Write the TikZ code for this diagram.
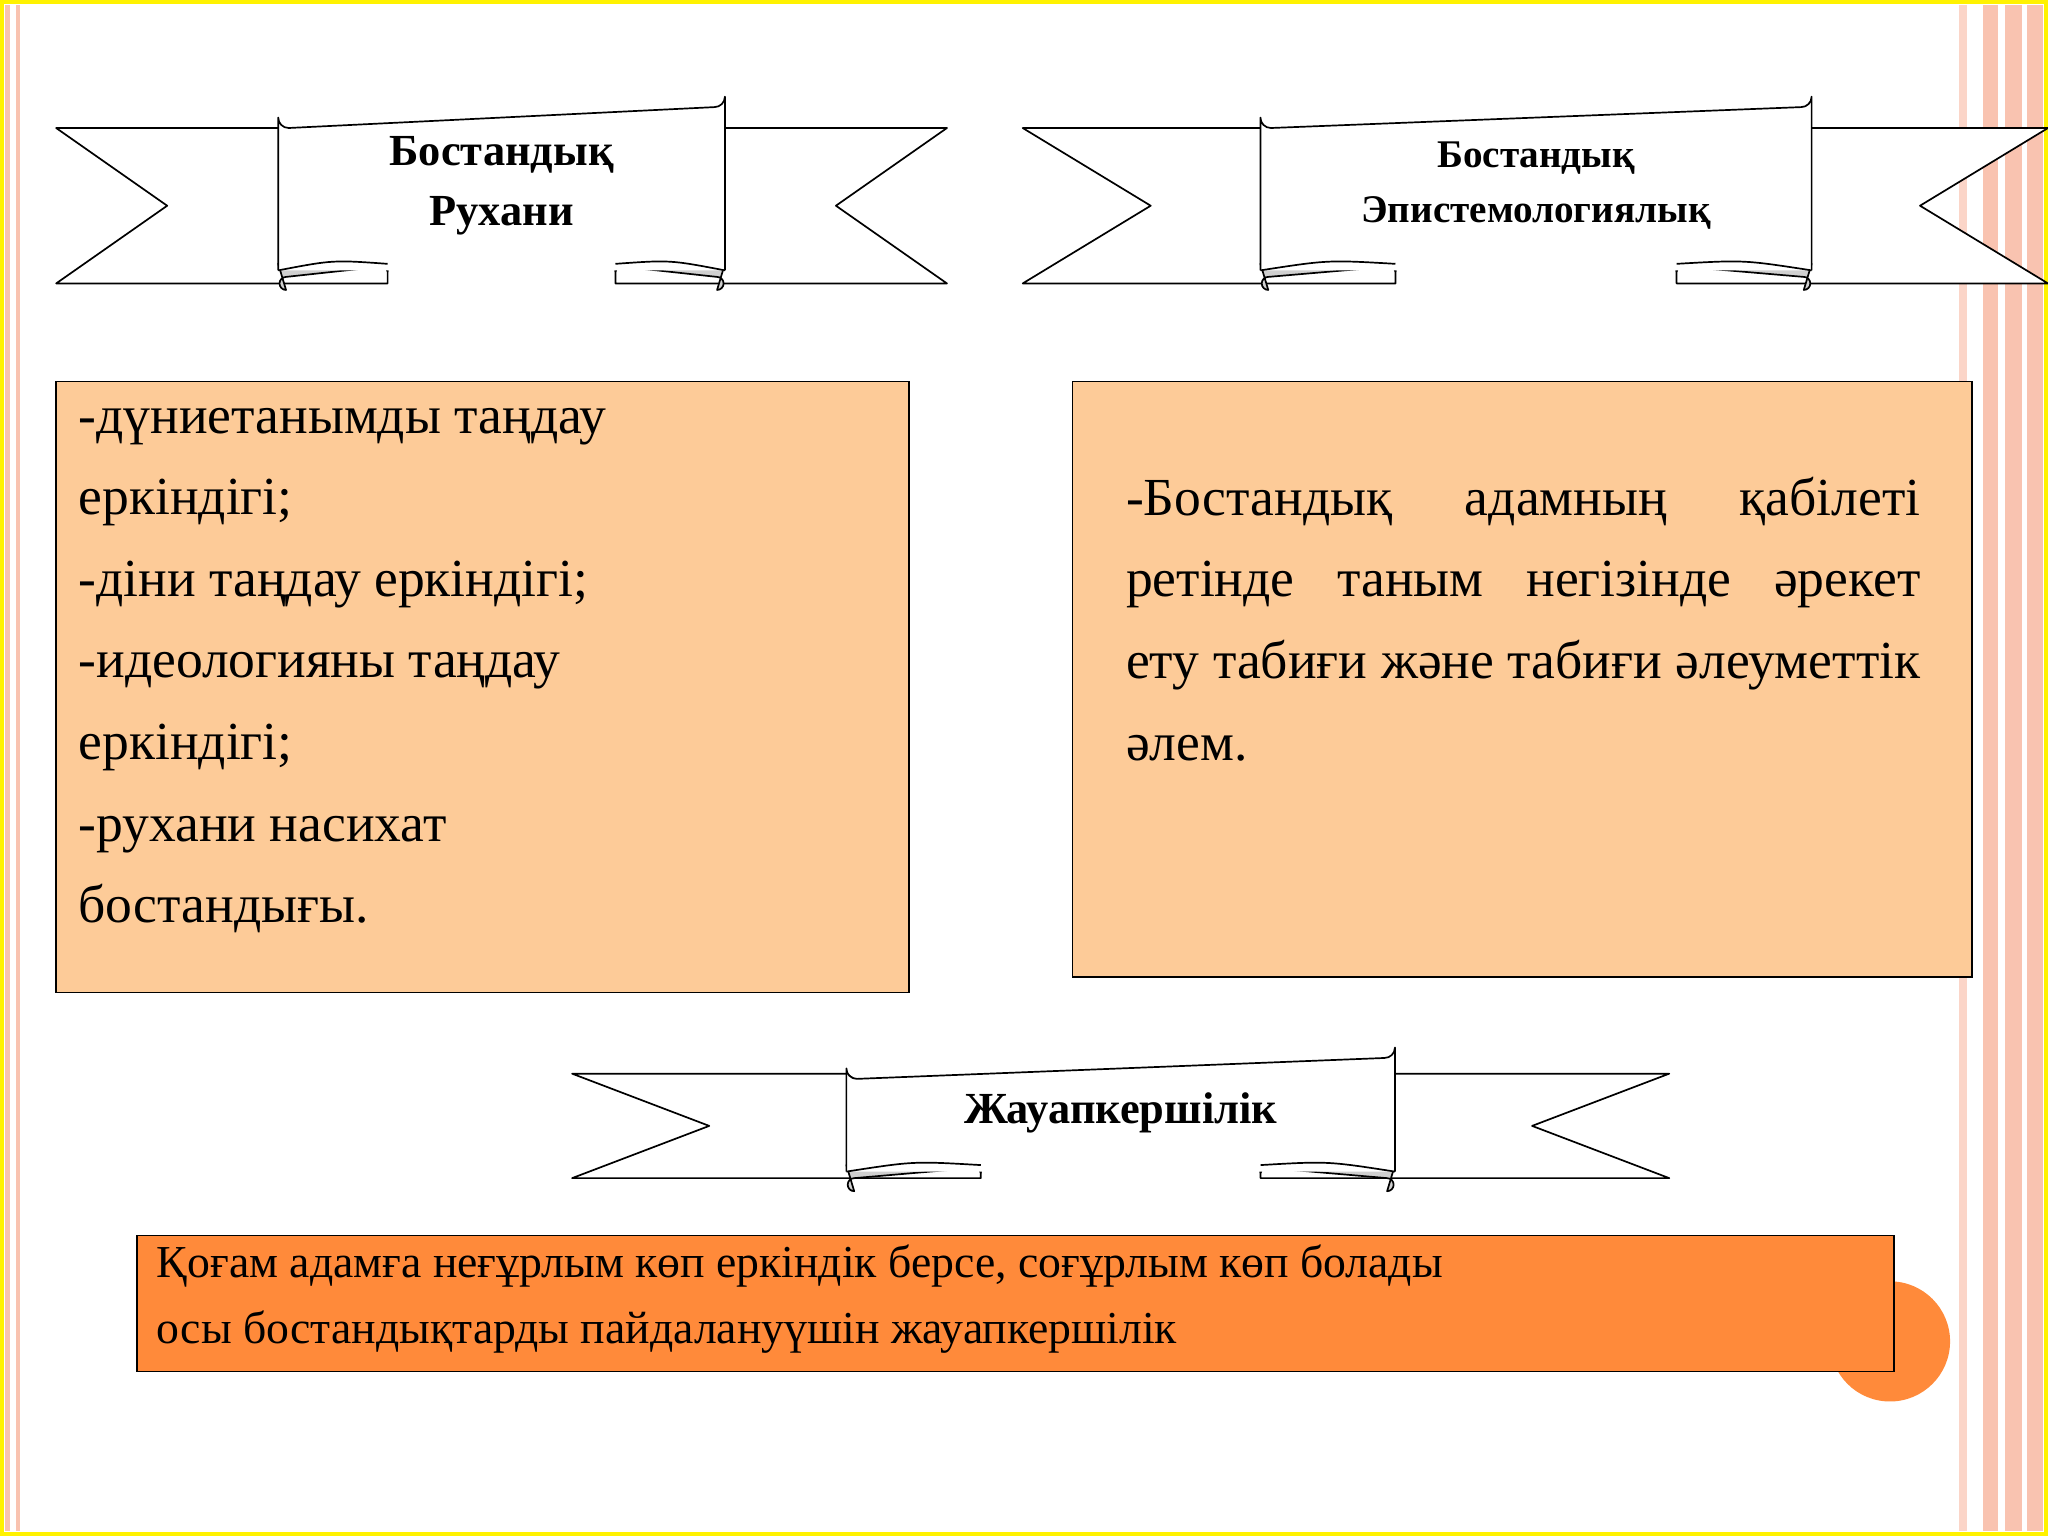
\documentclass[tikz,border=0pt]{standalone}
\usepackage{fontspec}
\setmainfont{Liberation Serif}
\definecolor{boxfill}{HTML}{FDCB98}
\definecolor{orfill}{HTML}{FF8A3A}
\definecolor{stripe}{HTML}{F9C3B0}
\definecolor{curl}{HTML}{D0D0D0}
\newcommand\ribbon[9]{%
  \pgfmathsetmacro\cw{0.245*(#3-#2)}%
  \pgfmathsetmacro\my{0.5*(#6+#7)}%
  \draw[rib] (#2,#6) -- (#1,#6) -- (#1+#5,\my) -- (#1,#7) -- (#2+\cw,#7) -- (#2+\cw,#9) -- cycle;
  \draw[rib] (#3,#6) -- (#4,#6) -- (#4-#5,\my) -- (#4,#7) -- (#3-\cw,#7) -- (#3-\cw,#9) -- cycle;
  \draw[rib,fill=curl] (#2,#9) -- (#2+\cw,#9) -- (#2+\cw,#9+6) arc[start angle=0,end angle=-90,radius=4] -- (#2+6,#9+10) arc[start angle=270,end angle=90,radius=5] -- cycle;
  \draw[rib,fill=curl] (#3,#9) -- (#3-\cw,#9) -- (#3-\cw,#9+6) arc[start angle=180,end angle=270,radius=4] -- (#3-6,#9+10) arc[start angle=-90,end angle=90,radius=5] -- cycle;
  \draw[rib] (#2,#9+5) -- (#2,#8+8) arc[start angle=180,end angle=90,radius=8] -- (#3-8,#8) arc[start angle=90,end angle=0,radius=8] -- (#3,#9+5);
  \draw[rib] (#2,#9+5) .. controls (#2+\cw*0.5,#9-3) .. (#2+\cw,#9);
  \draw[rib] (#3,#9+5) .. controls (#3-\cw*0.5,#9-3) .. (#3-\cw,#9);
}
\begin{document}
\begin{tikzpicture}[x=1pt,y=-1pt,rib/.style={draw=black,line width=1.3pt,fill=white,line join=round},
 box/.style={draw=black,line width=1.2pt},
 tit/.style={font=\bfseries, align=center, inner sep=0pt}]
\useasboundingbox (0,0) rectangle (1568,1176);
\fill[white] (0,0) rectangle (1568,1176);
% side stripes
\fill[stripe] (4,4) rectangle (8,1172);
\fill[stripe] (12,4) rectangle (15,1172);
\fill[stripe!70] (1500,4) rectangle (1506,1172);
\fill[stripe] (1518,4) rectangle (1530,1172);
\fill[stripe] (1535,4) rectangle (1548,1172);
\fill[stripe] (1552,4) rectangle (1564,1172);
\draw[yellow,line width=3pt] (1.5,1.5) rectangle (1566.5,1174.5);
% ribbons
\ribbon{43}{213}{555}{725}{85}{98}{217}{82}{202}
\node[tit,font=\bfseries\fontsize{34}{46}\selectfont] (t1) at (384,142) {Бостандық\\Рухани};
\ribbon{783}{965}{1387}{1568}{98}{98}{217}{82}{202}
\node[tit,font=\bfseries\fontsize{30}{42}\selectfont] (t2) at (1176,142) {Бостандық\\Эпистемологиялық};
\ribbon{438}{648}{1068}{1278}{105}{822}{902}{810}{892}
\node[tit,font=\bfseries\fontsize{34}{46}\selectfont] (t3) at (858,852) {Жауапкершілік};
% boxes
\draw[box,fill=boxfill] (43,292) rectangle (696,760);
\node[anchor=north west,align=left,inner sep=0pt,font=\fontsize{41}{62.5}\selectfont] (b1) at (60,312)
 {-дүниетанымды таңдау\\еркіндігі;\\-діни таңдау еркіндігі;\\-идеологияны таңдау\\еркіндігі;\\-рухани насихат\\бостандығы.};
\draw[box,fill=boxfill] (821,292) rectangle (1510,748);
\node[anchor=north west,inner sep=0pt,text width=608pt,align=justify,font=\fontsize{41}{62.5}\selectfont] (b2) at (862,365)
 {-Бостандық адамның қабілеті ретінде таным негізінде әрекет ету табиғи және табиғи әлеуметтік әлем.};
\fill[orfill] (1447,1027) circle (46);
\draw[box,fill=orfill] (105,946) rectangle (1450,1050);
\node[anchor=north west,align=left,inner sep=0pt,font=\fontsize{35}{50}\selectfont] (b3) at (120,953)
 {Қоғам адамға неғұрлым көп еркіндік берсе, соғұрлым көп болады\\осы бостандықтарды пайдалануүшін жауапкершілік};
\end{tikzpicture}
\end{document}
